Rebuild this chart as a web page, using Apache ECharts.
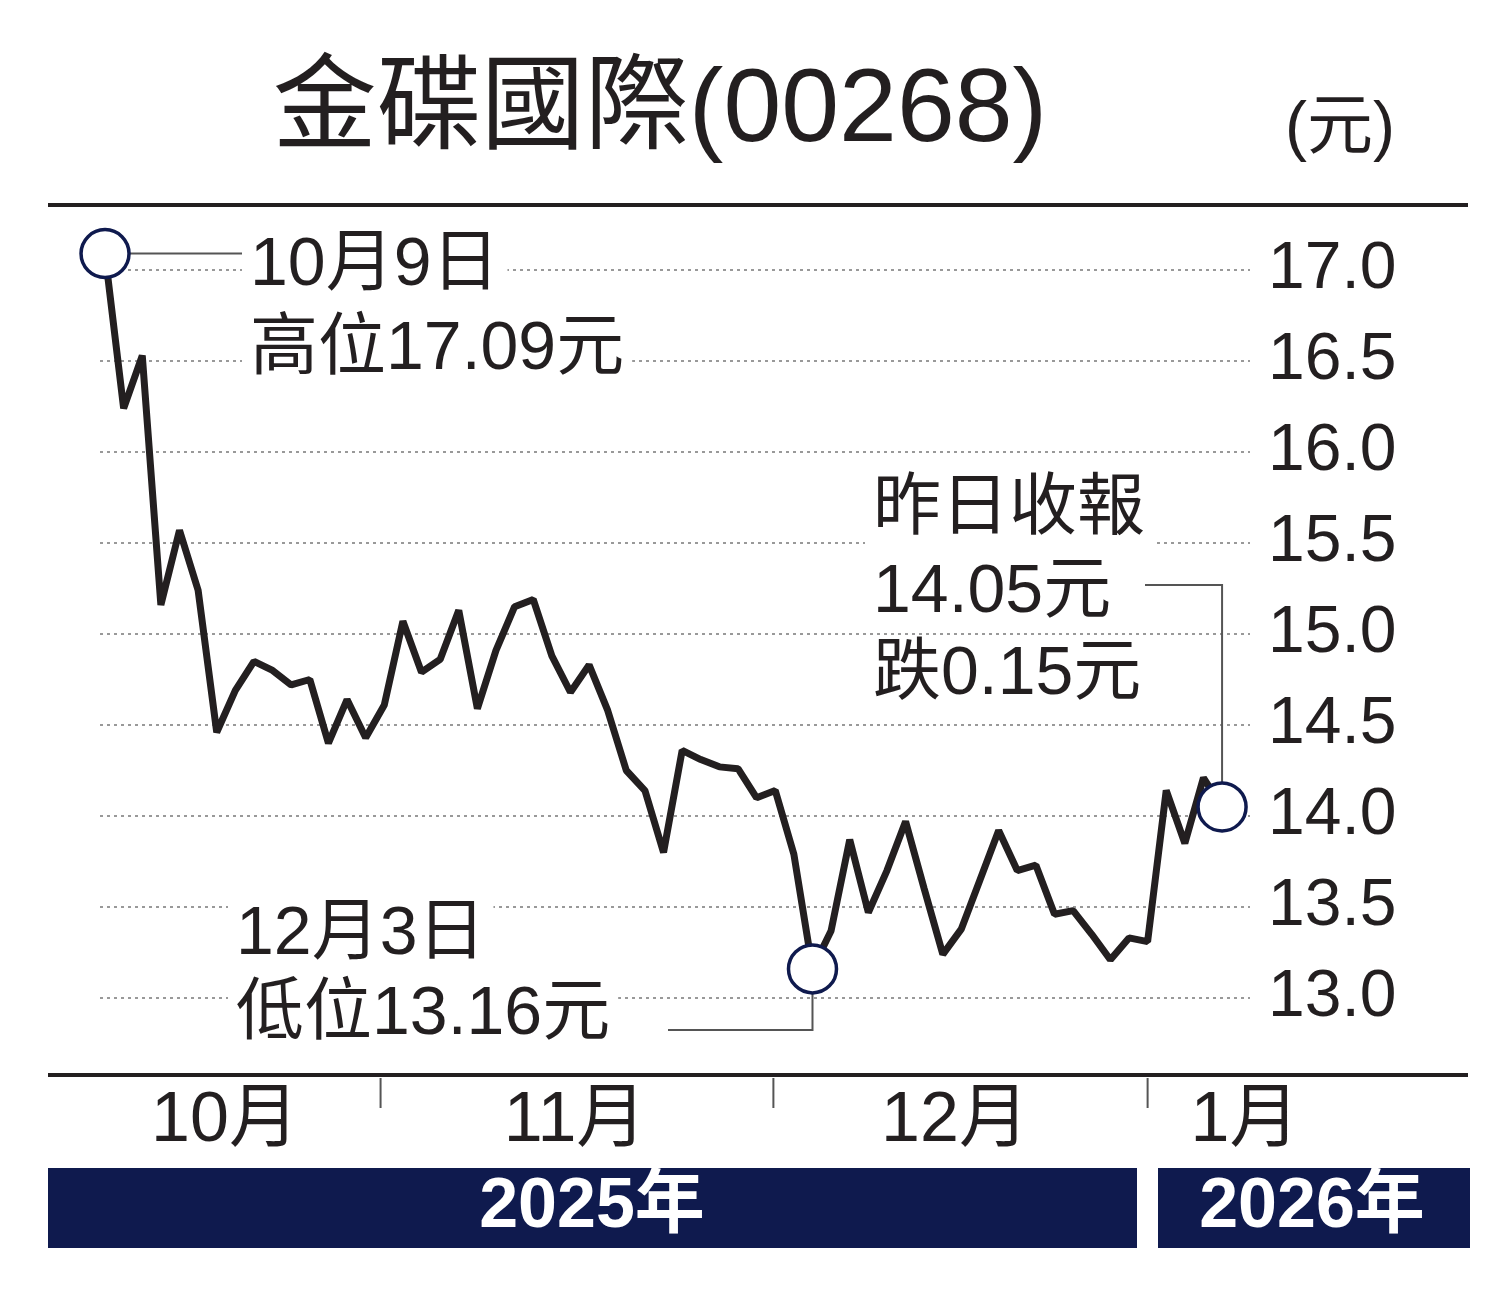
<!DOCTYPE html>
<html><head><meta charset="utf-8">
<script src="https://cdn.jsdelivr.net/npm/echarts@6/dist/echarts.min.js"></script>
<style>html,body{margin:0;background:#fff}#c{width:1500px;height:1315px}</style>
</head><body><div id="c"></div>
<script>
// closing prices, one per trading day
var prices = [17.09,16.24,16.53,15.16,15.57,15.24,14.46,14.69,14.85,14.80,14.72,14.75,14.40,14.64,14.43,
  14.61,15.07,14.79,14.86,15.13,14.59,14.91,15.15,15.19,14.88,14.68,14.83,14.58,14.25,14.14,13.80,14.36,14.31,
  14.27,14.26,14.10,14.14,13.79,13.16,13.37,13.87,13.47,13.70,13.97,13.60,13.24,13.38,13.65,13.92,13.70,13.73,
  13.46,13.48,13.35,13.21,13.33,13.31,14.14,13.85,14.21,14.05];
var yTicks = [13.0,13.5,14.0,14.5,15.0,15.5,16.0,16.5,17.0];
var months = ['10月','11月','12月','1月'];
var monthBreaks = [14.8, 35.9, 56.0]; // day positions between months
var monthCenters = [225, 575, 955, 1245];
var years = ['2025年','2026年'];
var marks = [0, 38, prices.length - 1];

var FONT = '"Liberation Sans", "Noto Sans CJK TC", sans-serif';
var INK = '#231f20', NAVY = '#0f1a4e';
var chart = echarts.init(document.getElementById('c'));
var n = prices.length;
var lineData = prices.map(function (v, i) { return [i, v]; });

chart.setOption({
  animation: false,
  grid: { left: 100, right: 250, top: 270, height: 728 },
  xAxis: { type: 'value', min: -0.27, max: n - 1 + 1.5, show: false },
  yAxis: {
    type: 'value', position: 'right', min: 13, max: 17, interval: 0.5,
    axisLine: { show: false }, axisTick: { show: false },
    axisLabel: { color: INK, fontSize: 66, fontFamily: FONT, margin: 18,
      formatter: function (v) { return v.toFixed(1); } },
    splitLine: { lineStyle: { color: '#999', type: [3, 4], width: 2 } }
  },
  series: [
    { type: 'line', data: lineData, symbol: 'none', clip: false,
      lineStyle: { color: INK, width: 7 }, z: 3 },
    { type: 'scatter', data: marks.map(function (i) { return [i, prices[i]]; }),
      symbolSize: 48, clip: false, z: 5,
      itemStyle: { color: '#fff', opacity: 1, borderColor: NAVY, borderWidth: 3.5 } }
  ]
});

function px(i) { return chart.convertToPixel({ gridIndex: 0 }, [i, prices[i]]); }
var p0 = px(marks[0]), p1 = px(marks[1]), p2 = px(marks[2]);
var g = [];
function txt(x, y, s, size, opt) {
  g.push(Object.assign({ type: 'text', x: x, y: y, z: 10,
    style: Object.assign({ text: s, fill: INK, fontSize: size, fontFamily: FONT,
      verticalAlign: 'middle', backgroundColor: '#fff', padding: [0, 8] }, opt || {}) }));
}
function ln(pts) {
  g.push({ type: 'polyline', z: 4, shape: { points: pts }, style: { stroke: '#555', lineWidth: 2, fill: null } });
}
txt(660, 112, '金碟國際(00268)', 104, { align: 'center', backgroundColor: null });
txt(1340, 130, '(元)', 66, { align: 'center', backgroundColor: null });
g.push({ type: 'rect', shape: { x: 48, y: 203, width: 1420, height: 4 }, style: { fill: INK } });
g.push({ type: 'rect', shape: { x: 48, y: 1073, width: 1420, height: 4 }, style: { fill: INK } });
ln([[p0[0] + 24, p0[1]], [242, p0[1]]]);
txt(242, 266, '10月9日', 68);
txt(242, 350, '高位17.09元', 68);
ln([[p1[0], p1[1] + 24], [p1[0], 1030], [668, 1030]]);
txt(228, 935, '12月3日', 68);
txt(228, 1015, '低位13.16元', 68);
ln([[p2[0], p2[1] - 24], [p2[0], 585], [1145, 585]]);
txt(865, 510, '昨日收報', 68);
txt(865, 593, '14.05元', 68);
txt(865, 675, '跌0.15元', 68);
monthBreaks.forEach(function (d) {
  var x = chart.convertToPixel({ gridIndex: 0 }, [d, 13])[0];
  ln([[x, 1078], [x, 1108]]);
});
months.forEach(function (m, k) {
  txt(monthCenters[k], 1122, m, 70, { align: 'center', backgroundColor: null });
});
g.push({ type: 'rect', shape: { x: 48, y: 1168, width: 1089, height: 80 }, style: { fill: NAVY } });
g.push({ type: 'rect', shape: { x: 1158, y: 1168, width: 312, height: 80 }, style: { fill: NAVY } });
txt(592, 1208, years[0], 70, { align: 'center', fill: '#fff', fontWeight: 'bold', backgroundColor: null });
txt(1312, 1208, years[1], 70, { align: 'center', fill: '#fff', fontWeight: 'bold', backgroundColor: null });
chart.setOption({ graphic: g });
</script></body></html>
